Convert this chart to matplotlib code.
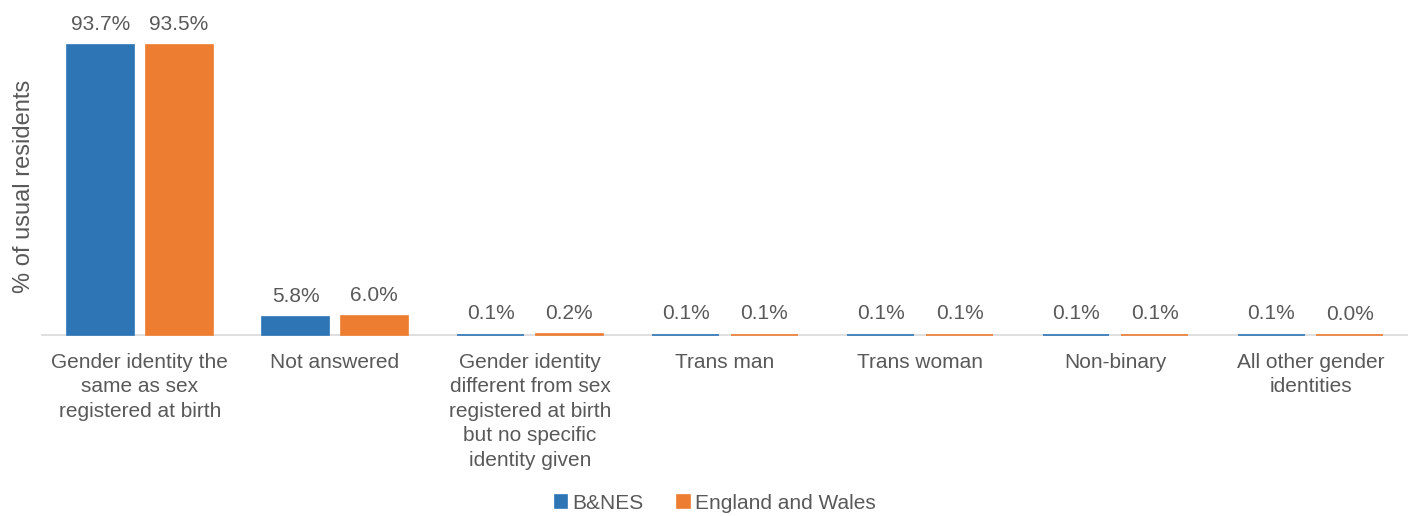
import numpy as np
import matplotlib.pyplot as plt

plt.rcParams['font.family'] = ['Liberation Sans', 'DejaVu Sans']

categories = [
    'Gender identity the\nsame as sex\nregistered at birth',
    'Not answered',
    'Gender identity\ndifferent from sex\nregistered at birth\nbut no specific\nidentity given',
    'Trans man',
    'Trans woman',
    'Non-binary',
    'All other gender\nidentities',
]
bnes = [93.7, 5.8, 0.1, 0.1, 0.1, 0.1, 0.1]
england_wales = [93.5, 6.0, 0.2, 0.1, 0.1, 0.1, 0.0]

blue = '#2E75B6'
orange = '#ED7D31'
text_col = '#595959'

fig = plt.figure(figsize=(14.08, 5.16), dpi=100)
ax = fig.add_axes([0.030, 0.351, 0.970, 0.600])

x = np.arange(len(categories))
w = 0.343
off = 0.2015
b1 = ax.bar(x - off, bnes, w, color=blue, edgecolor=blue, linewidth=1.2,
            label='B&NES', zorder=3, clip_on=False)
b2 = ax.bar(x + off, england_wales, w, color=orange, edgecolor=orange, linewidth=1.2,
            label='England and Wales', zorder=3, clip_on=False)

for bars in (b1, b2):
    ax.bar_label(bars, labels=[f'{v:.1f}%' for v in bars.datavalues],
                 padding=8, fontsize=15, color=text_col)

ax.set_xlim(-0.5, len(categories) - 0.5)
ax.set_ylim(0, 100)
ax.set_xticks(x)
ax.set_xticklabels(categories, fontsize=15, color=text_col, linespacing=1.36)
ax.tick_params(axis='x', length=0, pad=13)
ax.set_yticks([])
for side in ('top', 'right', 'left'):
    ax.spines[side].set_visible(False)
ax.spines['bottom'].set_color('#D9D9D9')
ax.spines['bottom'].set_linewidth(1.2)
ax.spines['bottom'].set_zorder(1)

ax.set_ylabel('% of usual residents', fontsize=17, color=text_col)
ax.yaxis.set_label_coords(-0.005, 0.48)

fig.legend(loc='lower center', bbox_to_anchor=(0.508, -0.03), ncol=2, frameon=False,
           fontsize=15, labelcolor=text_col, handlelength=0.6, handleheight=0.6,
           handletextpad=0.25, columnspacing=1.6)

fig.savefig('out.png', dpi=100)
